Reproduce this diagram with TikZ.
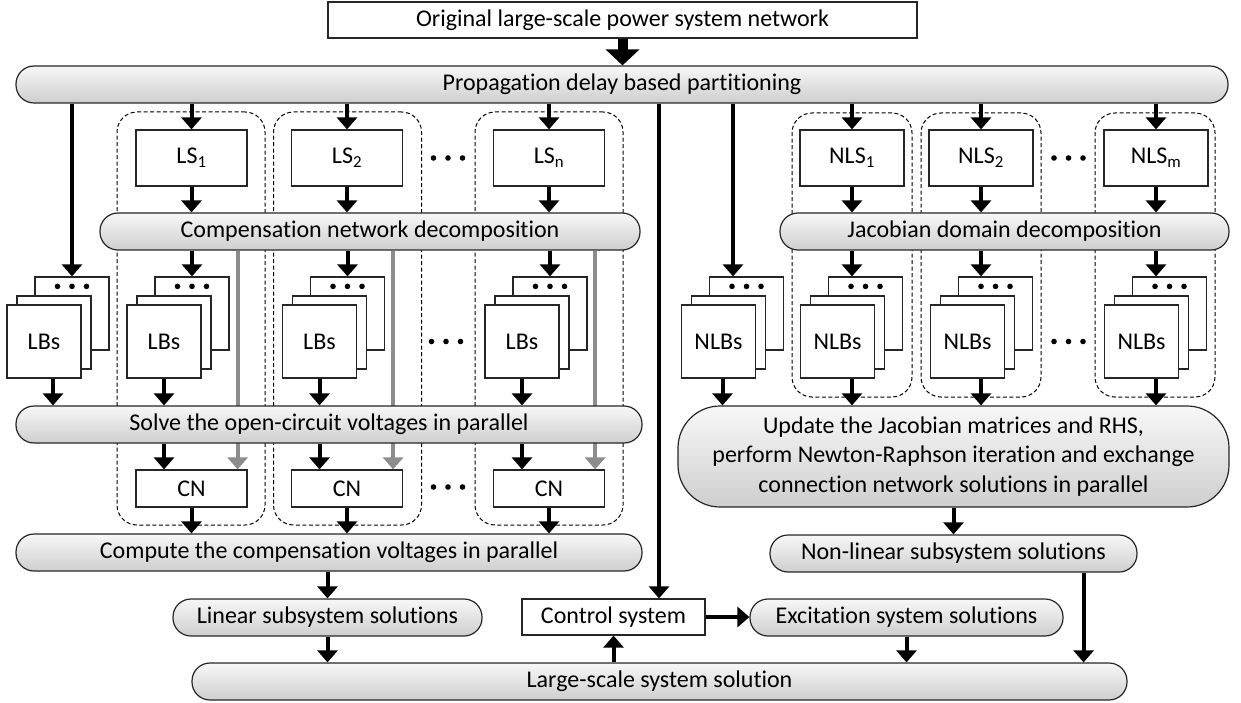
\documentclass[tikz,border=0pt]{standalone}
\usepackage{fontspec}
\setmainfont{Carlito}[Ligatures={NoCommon}]
\usetikzlibrary{arrows.meta}

% three dots in a row
\newcommand{\dotrow}[2]{\foreach \dx in {-14.5,0,14.5} {\fill ([xshift=\dx pt, yshift=#2pt]#1) circle (2.8pt);}}

\begin{document}
\begin{tikzpicture}[
    x=1pt, y=-1pt,
    every node/.style={font=\fontsize{24}{29.5}\selectfont, inner sep=0pt},
    box/.style={draw=black!85, line width=1.2pt, fill=white, minimum height=36pt},
    bar/.style={draw=black!85, line width=1.2pt, top color=gray!6, bottom color=gray!38, rounded corners=18pt, minimum height=37pt},
    blk/.style={draw=black!85, line width=1.2pt, fill=white, minimum width=74pt, minimum height=73pt},
    grp/.style={draw=black, dash pattern=on 4pt off 2.5pt, line width=1pt, rounded corners=20pt},
    arr/.style={line width=4pt, -{Triangle[width=20pt,length=12pt]}},
    garr/.style={arr, draw=gray!90, fill=gray!90},
    bigarr/.style={line width=10pt, -{Triangle[width=33pt,length=16pt]}}
]
\useasboundingbox (0,0) rectangle (1241,703);

% Input and partitioning
\node[box, minimum width=589pt] (orig) at (622.5,20) {Original large-scale power system network};
\node[bar, minimum width=1212pt] (part) at (622,84.5) {Propagation delay based partitioning};

% Dashed groups
\node[grp, minimum width=148pt, minimum height=413pt] (g1) at (191,318.5) {};
\node[grp, minimum width=148pt, minimum height=413pt] (g2) at (347.5,318.5) {};
\node[grp, minimum width=148pt, minimum height=413pt] (g3) at (549,318.5) {};
\node[grp, minimum width=120pt, minimum height=284pt] (h1) at (852,255) {};
\node[grp, minimum width=120pt, minimum height=284pt] (h2) at (981,255) {};
\node[grp, minimum width=120pt, minimum height=284pt] (h3) at (1155,255) {};

% Linear subsystems
\node[box, minimum width=111pt, minimum height=56pt] (ls1) at (191.5,158) {LS\textsubscript{1}};
\node[box, minimum width=111pt, minimum height=56pt] (ls2) at (347,158) {LS\textsubscript{2}};
\node[box, minimum width=111pt, minimum height=56pt] (lsn) at (549,158) {LS\textsubscript{n}};
\node[bar, minimum width=540pt] (cnd) at (370,231.5) {Compensation network decomposition};

% Non-linear subsystems
\node[box, minimum width=104pt, minimum height=56pt] (nls1) at (852,158) {NLS\textsubscript{1}};
\node[box, minimum width=104pt, minimum height=56pt] (nls2) at (981,158) {NLS\textsubscript{2}};
\node[box, minimum width=104pt, minimum height=56pt] (nlsm) at (1156,158) {NLS\textsubscript{m}};
\node[bar, minimum width=449pt] (jdd) at (1004.5,231.5) {Jacobian domain decomposition};

% Block stacks (back, middle, front)
\node[blk] (lb0b) at (72,313.5) {};
\node[blk] (lb0m) at ([shift={(-18,19)}]lb0b) {};
\node[blk] (lb0f) at ([shift={(-28,28)}]lb0b) {LBs};
\node[blk] (lb1b) at (192,313.5) {};
\node[blk] (lb1m) at ([shift={(-18,19)}]lb1b) {};
\node[blk] (lb1f) at ([shift={(-28,28)}]lb1b) {LBs};
\node[blk] (lb2b) at (347.5,313.5) {};
\node[blk] (lb2m) at ([shift={(-18,19)}]lb2b) {};
\node[blk] (lb2f) at ([shift={(-28,28)}]lb2b) {LBs};
\node[blk] (lb3b) at (550,313.5) {};
\node[blk] (lb3m) at ([shift={(-18,19)}]lb3b) {};
\node[blk] (lb3f) at ([shift={(-28,28)}]lb3b) {LBs};
\node[blk] (nlb0b) at (746.5,313.5) {};
\node[blk] (nlb0m) at ([shift={(-18,19)}]nlb0b) {};
\node[blk] (nlb0f) at ([shift={(-28,28)}]nlb0b) {NLBs};
\node[blk] (nlb1b) at (865.5,313.5) {};
\node[blk] (nlb1m) at ([shift={(-18,19)}]nlb1b) {};
\node[blk] (nlb1f) at ([shift={(-28,28)}]nlb1b) {NLBs};
\node[blk] (nlb2b) at (995.5,313.5) {};
\node[blk] (nlb2m) at ([shift={(-18,19)}]nlb2b) {};
\node[blk] (nlb2f) at ([shift={(-28,28)}]nlb2b) {NLBs};
\node[blk] (nlbmb) at (1169.5,313.5) {};
\node[blk] (nlbmm) at ([shift={(-18,19)}]nlbmb) {};
\node[blk] (nlbmf) at ([shift={(-28,28)}]nlbmb) {NLBs};

% Dots
\dotrow{lb0b.north}{-10} \dotrow{lb1b.north}{-10} \dotrow{lb2b.north}{-10} \dotrow{lb3b.north}{-10}
\dotrow{nlb0b.north}{-10} \dotrow{nlb1b.north}{-10} \dotrow{nlb2b.north}{-10} \dotrow{nlbmb.north}{-10}
\coordinate (d1) at (448,158);
\coordinate (d2) at (446,341.5);
\coordinate (d3) at (448,487);
\coordinate (d4) at (1068.5,158);
\coordinate (d5) at (1068.5,341.5);
\dotrow{d1}{0} \dotrow{d2}{0} \dotrow{d3}{0} \dotrow{d4}{0} \dotrow{d5}{0}

% Connection networks
\node[box, minimum width=111pt, minimum height=37pt] (cn1) at (191.5,488.5) {CN};
\node[box, minimum width=111pt, minimum height=37pt] (cn2) at (347,488.5) {CN};
\node[box, minimum width=111pt, minimum height=37pt] (cn3) at (549,488.5) {CN};

% Gray arrows behind the solve bar
\draw[garr] ([xshift=-10pt]cn1.north east |- cnd.south) -- ([xshift=-10pt]cn1.north east);
\draw[garr] ([xshift=-10pt]cn2.north east |- cnd.south) -- ([xshift=-10pt]cn2.north east);
\draw[garr] ([xshift=-10pt]cn3.north east |- cnd.south) -- ([xshift=-10pt]cn3.north east);

% Solution steps
\node[bar, minimum width=626pt] (solve) at (329,424.5) {Solve the open-circuit voltages in parallel};
\node[bar, minimum width=626pt] (comp) at (329,552.5) {Compute the compensation voltages in parallel};
\node[bar, minimum width=309pt] (lin) at (327.5,617.5) {Linear subsystem solutions};
\node[box, minimum width=183pt] (ctrl) at (613.5,617) {Control system};
\node[bar, minimum width=313pt] (exc) at (906.5,617.5) {Excitation system solutions};
\node[bar, minimum width=551pt, minimum height=101pt, rounded corners=42pt, align=center] (upd) at (953.5,456.5)
  {Update the Jacobian matrices and RHS,\\perform Newton-Raphson iteration and exchange\\connection network solutions in parallel};
\node[bar, minimum width=367pt] (nlsol) at (953.5,553.5) {Non-linear subsystem solutions};
\node[bar, minimum width=935pt] (large) at (659.5,681.5) {Large-scale system solution};
\coordinate (cl) at (659,0);

% Arrows from partitioning
\draw[bigarr] (orig.south) -- (orig.south |- part.north);
\draw[arr] (lb0b |- part.south) -- (lb0b);
\draw[arr] (ls1 |- part.south) -- (ls1);
\draw[arr] (ls2 |- part.south) -- (ls2);
\draw[arr] (lsn |- part.south) -- (lsn);
\draw[arr] (part.south -| cl) -- (cl |- ctrl.north);
\draw[arr] ([xshift=-13.5pt]nlb0b.north |- part.south) -- ([xshift=-13.5pt]nlb0b.north);
\draw[arr] (nls1 |- part.south) -- (nls1);
\draw[arr] (nls2 |- part.south) -- (nls2);
\draw[arr] (nlsm |- part.south) -- (nlsm);

% Linear branch
\draw[arr] (ls1) -- (ls1 |- cnd.north);
\draw[arr] (ls2) -- (ls2 |- cnd.north);
\draw[arr] (lsn) -- (lsn |- cnd.north);
\draw[arr] (lb1b |- cnd.south) -- (lb1b);
\draw[arr] (lb2b |- cnd.south) -- (lb2b);
\draw[arr] (lb3b |- cnd.south) -- (lb3b);
\draw[arr] ([xshift=9pt]lb0f.south) -- ([xshift=9pt]lb0f.south |- solve.north);
\draw[arr] (lb1f) -- (lb1f |- solve.north);
\draw[arr] (lb2f) -- (lb2f |- solve.north);
\draw[arr] (lb3f) -- (lb3f |- solve.north);
\draw[arr] (lb1f |- solve.south) -- (lb1f |- cn1.north);
\draw[arr] (lb2f |- solve.south) -- (lb2f |- cn2.north);
\draw[arr] (lb3f |- solve.south) -- (lb3f |- cn3.north);
\draw[arr] (cn1) -- (cn1 |- comp.north);
\draw[arr] (cn2) -- (cn2 |- comp.north);
\draw[arr] (cn3) -- (cn3 |- comp.north);
\draw[arr] (lin |- comp.south) -- (lin);
\draw[arr] (lin) -- (lin |- large.north);

% Control and excitation
\draw[arr] (ctrl |- large.north) -- (ctrl);
\draw[arr] (ctrl.east) -- (ctrl.east -| exc.west);
\draw[arr] (exc) -- (exc |- large.north);

% Non-linear branch
\draw[arr] (nls1) -- (nls1 |- jdd.north);
\draw[arr] (nls2) -- (nls2 |- jdd.north);
\draw[arr] (nlsm) -- (nlsm |- jdd.north);
\draw[arr] (nls1 |- jdd.south) -- (nls1 |- nlb1b.north);
\draw[arr] (nls2 |- jdd.south) -- (nls2 |- nlb2b.north);
\draw[arr] (nlsm |- jdd.south) -- (nlsm |- nlbmb.north);
\draw[arr] ([xshift=4pt]nlb0f.south) -- ([xshift=4pt]nlb0f.south |- upd.north);
\draw[arr] (nls1 |- nlb1f.south) -- (nls1 |- upd.north);
\draw[arr] (nls2 |- nlb2f.south) -- (nls2 |- upd.north);
\draw[arr] (nlsm |- nlbmf.south) -- (nlsm |- upd.north);
\draw[arr] (upd) -- (nlsol);
\draw[arr] ([xshift=-54pt]nlsol.south east) -- ([xshift=-54pt]nlsol.south east |- large.north);

\end{tikzpicture}
\end{document}
